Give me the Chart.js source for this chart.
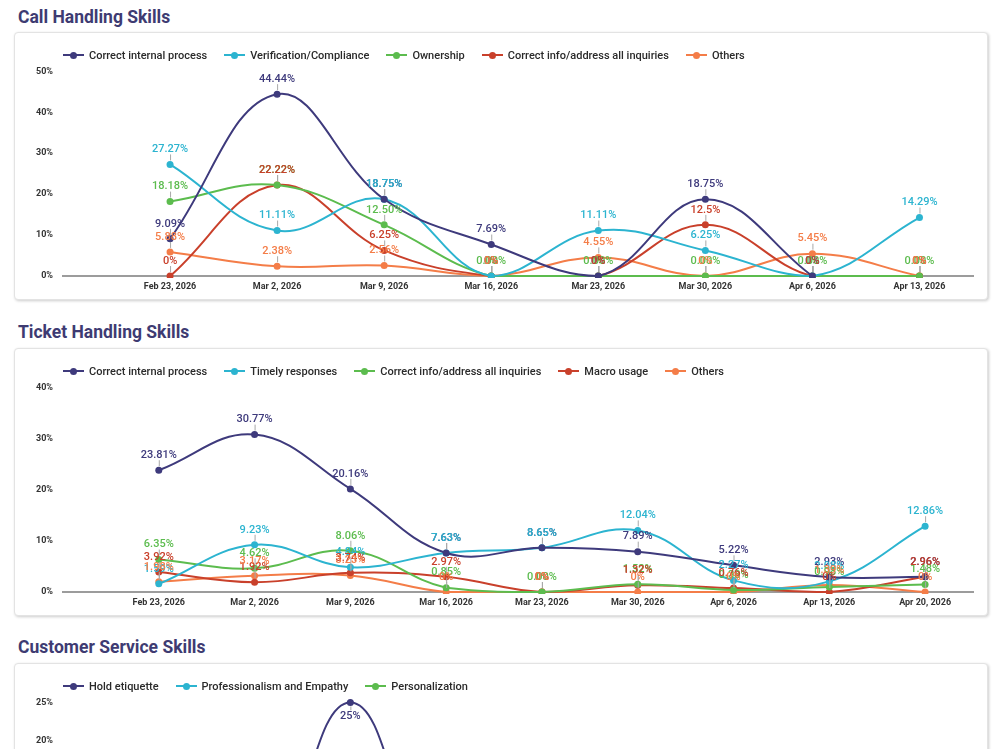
<!DOCTYPE html>
<html>
<head>
<meta charset="utf-8">
<script src="https://cdn.jsdelivr.net/npm/chart.js@4.4.0/dist/chart.umd.min.js"></script>
<style>
html,body{margin:0;padding:0;overflow:hidden;background:#fff;font-family:Roboto,sans-serif}
.title{position:absolute;left:18px;margin:0;font:700 17.5px/20px Roboto,sans-serif;color:#3e3b72}
.card{position:absolute;left:14px;width:972px;border:1px solid #e3e3e3;border-radius:4px;box-shadow:1px 1px 3px rgba(0,0,0,.2);background:#fff}
.legend{position:absolute;left:48px;top:15px;height:14px;display:flex;align-items:center;white-space:nowrap;font:500 11px Roboto,sans-serif;color:#2a2a2a;z-index:1}
.legend .it{display:inline-flex;align-items:center;margin-right:17px}
.legend .sw{position:relative;width:21px;height:2px;margin-right:5px}
.legend .sw::after{content:'';position:absolute;left:7px;top:-2.5px;width:7px;height:7px;border-radius:50%;background:inherit}
.wrap{position:absolute;left:0;top:23px;width:972px}
</style>
</head>
<body>

<h2 class="title" style="top:7px">Call Handling Skills</h2>
<div class="card" style="top:32px;height:266px">
  <div class="legend" id="leg1"></div>
  <div class="wrap" style="height:241px"><canvas id="c1"></canvas></div>
</div>

<h2 class="title" style="top:322px">Ticket Handling Skills</h2>
<div class="card" style="top:348px;height:266px">
  <div class="legend" id="leg2"></div>
  <div class="wrap" style="height:241px"><canvas id="c2"></canvas></div>
</div>

<h2 class="title" style="top:637px">Customer Service Skills</h2>
<div class="card" style="top:663px;height:254px">
  <div class="legend" id="leg3"></div>
  <div class="wrap" style="height:226px"><canvas id="c3"></canvas></div>
</div>

<script>
// colours used by every chart, in series order
const colors = ['#3e3a7c', '#2cb4d0', '#5cbc4e', '#c9402b', '#f47d48'];

// --- Call Handling Skills ---
const callDates = ['Feb 23, 2026', 'Mar 2, 2026', 'Mar 9, 2026', 'Mar 16, 2026', 'Mar 23, 2026', 'Mar 30, 2026', 'Apr 6, 2026', 'Apr 13, 2026'];
const callNames = ['Correct internal process', 'Verification/Compliance', 'Ownership', 'Correct info/address all inquiries', 'Others'];
const callInternal = [9.09, 44.44, 18.75, 7.69, 0, 18.75, 0, null];
const callVerification = [27.27, 11.11, 18.75, 0, 11.11, 6.25, 0, 14.29];
const callOwnership = [18.18, 22.22, 12.5, 0, 0, 0, 0, 0];
const callCorrectInfo = [0, 22.22, 6.25, 0, 0, 12.5, 0, 0];
const callOthers = [5.88, 2.38, 2.56, 0, 4.55, 0, 5.45, 0];
const callTicks = [0, 10, 20, 30, 40, 50];

// --- Ticket Handling Skills ---
const ticketDates = ['Feb 23, 2026', 'Mar 2, 2026', 'Mar 9, 2026', 'Mar 16, 2026', 'Mar 23, 2026', 'Mar 30, 2026', 'Apr 6, 2026', 'Apr 13, 2026', 'Apr 20, 2026'];
const ticketNames = ['Correct internal process', 'Timely responses', 'Correct info/address all inquiries', 'Macro usage', 'Others'];
const ticketInternal = [23.81, 30.77, 20.16, 7.63, 8.65, 7.89, 5.22, 2.93, 2.96];
const ticketTimely = [1.59, 9.23, 4.84, 7.63, 8.65, 12.04, 2.27, 2.08, 12.86];
const ticketCorrectInfo = [6.35, 4.62, 8.06, 0.85, 0, 1.52, 0.38, 0.98, 1.48];
const ticketMacro = [3.92, 1.92, 3.74, 2.97, 0, 1.32, 0.76, 0, 2.96];
const ticketOthers = [1.98, 3.17, 3.23, 0, 0, 0, 0, 1.39, 0];
const ticketTicks = [0, 10, 20, 30, 40];

// --- Customer Service Skills ---
const csDates = ticketDates;
const csNames = ['Hold etiquette', 'Professionalism and Empathy', 'Personalization'];
const csHold = [0, 0, 25, 0, 0, 0, 0, 0, 0];
const csProfessionalism = [8.33, 5.56, 12.5, 6.25, 0, 7.14, 0, 3.85, 0];
const csPersonalization = [4.17, 0, 6.25, 0, 3.33, 0, 0, 0, 2.5];
const csTicks = [0, 5, 10, 15, 20, 25];

// value labels above each point, with a little leader line
const pointLabels = {
  id: 'pointLabels',
  afterDatasetsDraw(chart) {
    const { ctx, chartArea } = chart;
    ctx.save();
    ctx.font = '500 11px Roboto';
    ctx.textAlign = 'center';
    ctx.textBaseline = 'middle';
    chart.data.datasets.forEach((ds, i) => {
      const meta = chart.getDatasetMeta(i);
      meta.data.forEach((pt, j) => {
        const v = ds.data[j].y;
        if (v === null || v === undefined) return;
        const txt = (ds.fixed ? v.toFixed(2) : String(v)) + '%';
        let ly = pt.y - 15, a = pt.y - 4, b = pt.y - 10;
        if (ly < chartArea.top - 2) { ly = pt.y + 14; a = pt.y + 4; b = pt.y + 8; }
        ctx.strokeStyle = '#a8a8a8';
        ctx.lineWidth = 1;
        ctx.beginPath();
        ctx.moveTo(pt.x + 0.5, a);
        ctx.lineTo(pt.x + 0.5, b);
        ctx.stroke();
        ctx.fillStyle = ds.borderColor;
        ctx.fillText(txt, pt.x, ly);
      });
    });
    ctx.restore();
  }
};

function legend(id, names) {
  document.getElementById(id).innerHTML = names.map((n, i) =>
    `<span class="it"><span class="sw" style="background:${colors[i]}"></span>${n}</span>`).join('');
}

function makeChart(id, dates, names, series, ticks) {
  const datasets = series.map((vals, i) => ({
    label: names[i],
    data: vals.map((v, k) => ({ x: k, y: v })),
    borderColor: colors[i],
    backgroundColor: colors[i],
    borderWidth: 2,
    pointRadius: 3.5,
    pointBorderWidth: 0,
    tension: 0.4,
    fixed: i === 2,
    clip: { left: 10, right: 10, top: 10, bottom: 2 }
  }));
  return new Chart(document.getElementById(id), {
    type: 'line',
    data: { datasets },
    options: {
      responsive: true,
      maintainAspectRatio: false,
      animation: false,
      layout: { padding: { top: 4, right: 14, left: 0, bottom: 0 } },
      plugins: { legend: { display: false }, tooltip: { enabled: false } },
      scales: {
        x: {
          type: 'linear',
          min: -1,
          max: dates.length - 0.5,
          grid: { display: false, drawTicks: false },
          border: { display: true, color: '#9c9c9c', width: 2 },
          afterFit: (s) => { s.height = 21; },
          ticks: {
            stepSize: 1,
            autoSkip: false,
            maxRotation: 0,
            padding: 5,
            color: '#333',
            font: { size: 9, weight: 'bold' },
            callback: (v) => (Number.isInteger(v) && v >= 0 && v < dates.length) ? dates[v] : ''
          }
        },
        y: {
          min: ticks[0],
          max: ticks[ticks.length - 1],
          grid: { display: false, drawTicks: false },
          border: { display: false },
          afterFit: (s) => { s.width = 48; },
          afterBuildTicks: (s) => { s.ticks = ticks.map(v => ({ value: v })); },
          ticks: {
            padding: 10,
            color: '#333',
            font: { size: 9, weight: 'bold' },
            callback: (v) => v + '%'
          }
        }
      }
    },
    plugins: [pointLabels]
  });
}

Chart.defaults.font.family = 'Roboto';

legend('leg1', callNames);
legend('leg2', ticketNames);
legend('leg3', csNames);

makeChart('c1', callDates, callNames, [callInternal, callVerification, callOwnership, callCorrectInfo, callOthers], callTicks);
makeChart('c2', ticketDates, ticketNames, [ticketInternal, ticketTimely, ticketCorrectInfo, ticketMacro, ticketOthers], ticketTicks);
makeChart('c3', csDates, csNames, [csHold, csProfessionalism, csPersonalization], csTicks);
</script>
</body>
</html>
